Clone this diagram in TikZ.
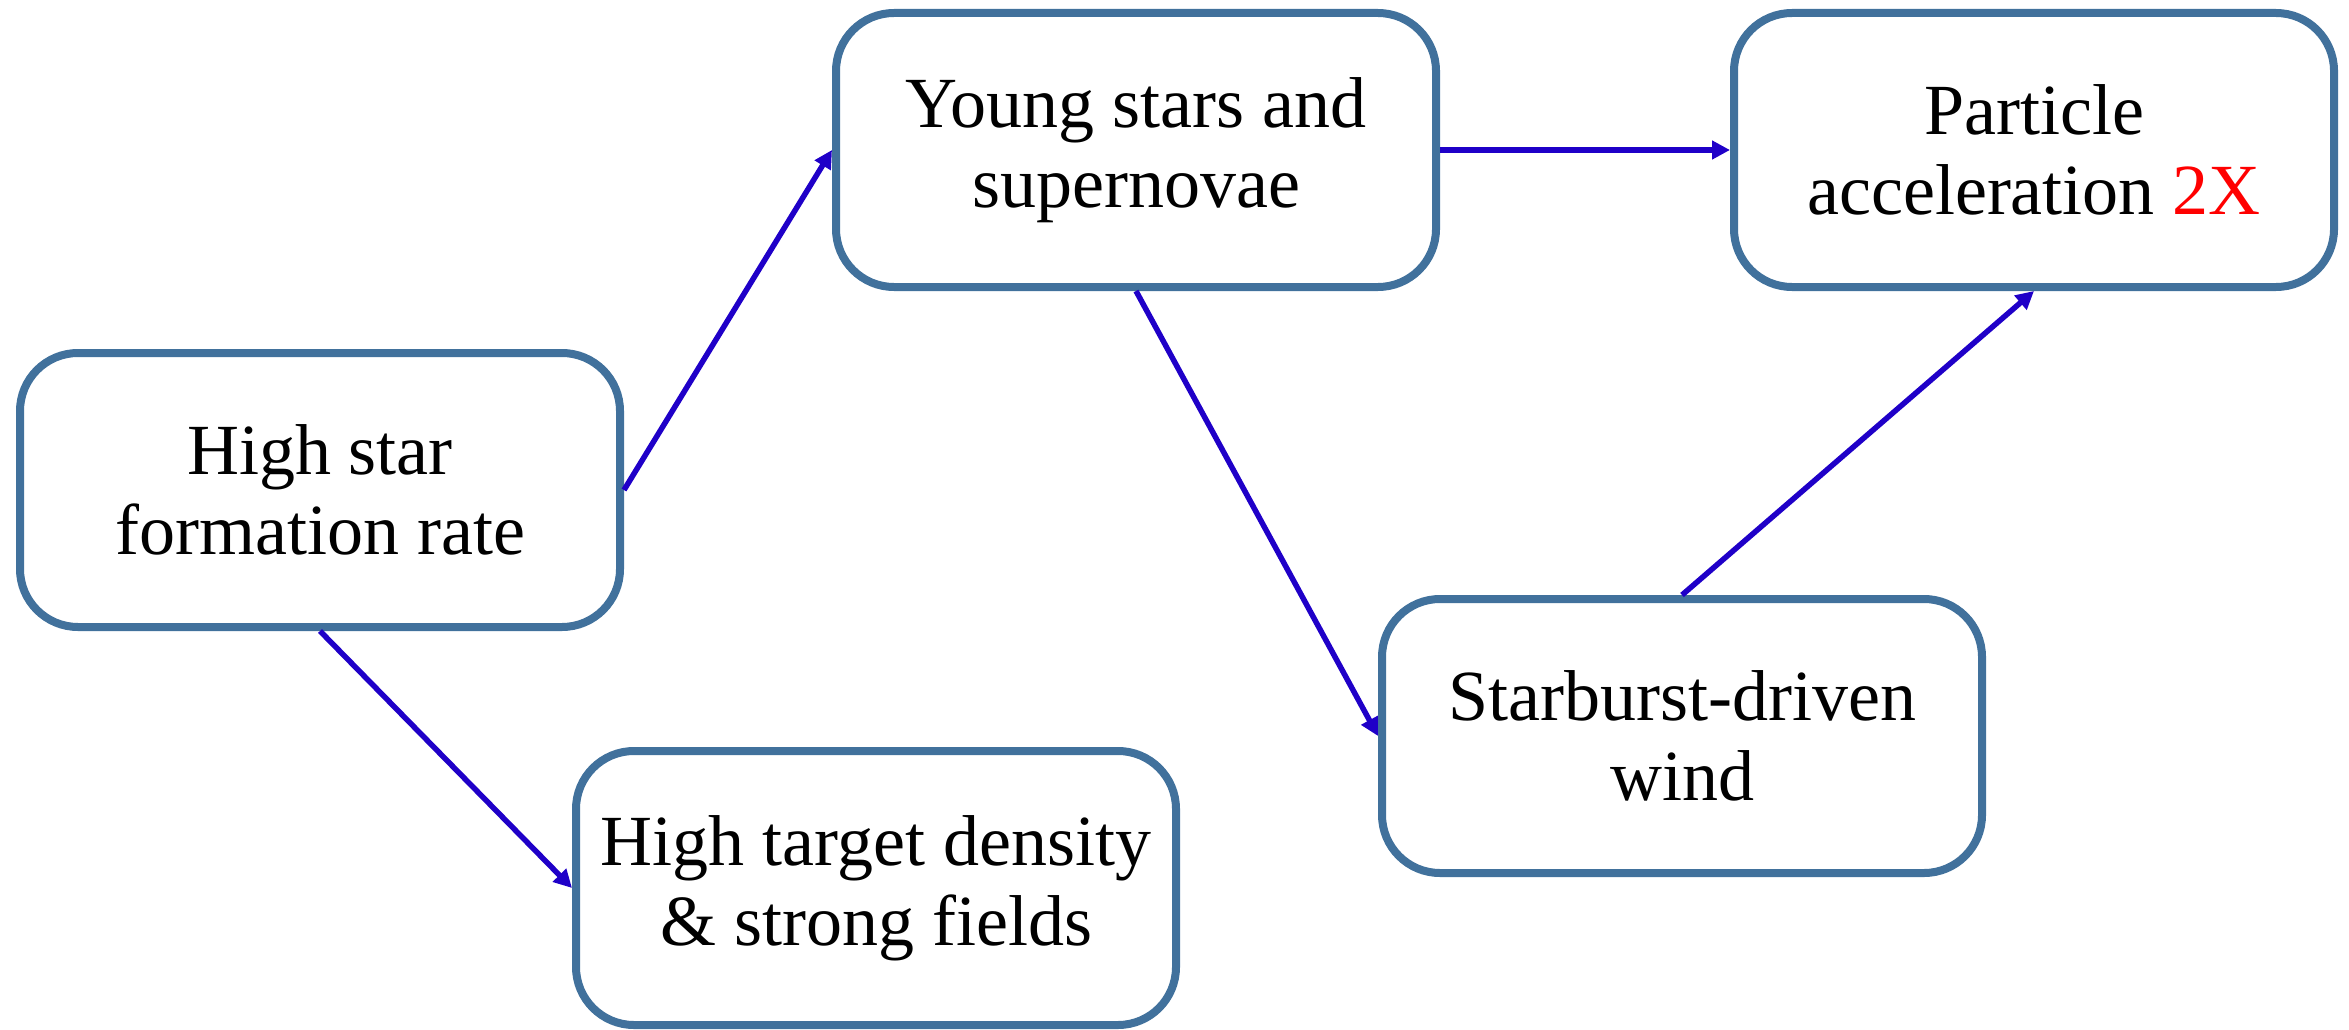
\documentclass[tikz,border=0pt]{standalone}
\usepackage{fontspec}
\setmainfont{Liberation Serif}
\usetikzlibrary{arrows.meta}
\definecolor{boxblue}{HTML}{41719C}
\definecolor{arrowblue}{HTML}{1F00C8}
\definecolor{hlred}{HTML}{FF0000}
\begin{document}
\begin{tikzpicture}[x=1pt,y=-1pt,
  flowbox/.style={draw=boxblue, line width=8pt, fill=white, rounded corners=58pt,
    minimum width=600pt, minimum height=274pt, align=center, inner sep=0pt,
    font=\fontsize{72}{80}\selectfont},
  flowarrow/.style={draw=arrowblue, line width=5.5pt,
    -{Triangle[length=18pt,width=18pt]}}]
\useasboundingbox (0,0) rectangle (2349,1030);
\node[flowbox] (hsfr) at (320,490) {High star\\formation rate};
\node[flowbox] (young) at (1136,150) {Young stars and\\supernovae};
\node[flowbox] (part) at (2034,150) {Particle\\acceleration \textcolor{hlred}{2X}};
\node[flowbox] (wind) at (1682,736) {Starburst-driven\\wind};
\node[flowbox] (dens) at (876,888) {High target density\\\& strong fields};
\draw[flowarrow] (hsfr.east) -- (young.west);
\draw[flowarrow] (hsfr.south) -- (dens.west);
\draw[flowarrow] (young.east) -- (part.west);
\draw[flowarrow] (young.south) -- (wind.west);
\draw[flowarrow] (wind.north) -- (part.south);
\end{tikzpicture}
\end{document}
